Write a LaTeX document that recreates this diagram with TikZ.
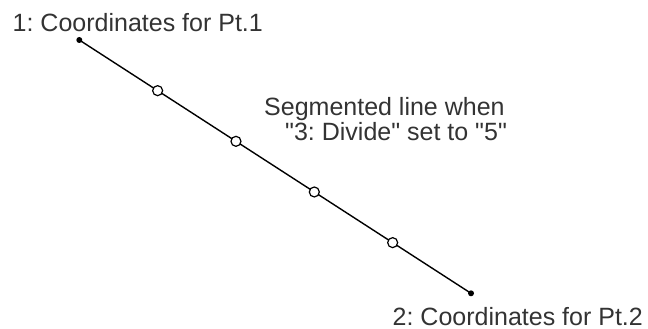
\documentclass[tikz,border=0pt]{standalone}
\usepackage{fontspec}
\setmainfont{Liberation Sans}
\usetikzlibrary{calc}
\frenchspacing
\begin{document}
\begin{tikzpicture}[x=1pt,y=-1pt,
  lbl/.style={font=\fontsize{25}{25}\selectfont, text=black!80, inner sep=0pt, anchor=base west},
  enddot/.style={circle, fill=black, inner sep=0pt, minimum size=6pt},
  divpt/.style={circle, draw=black, fill=white, line width=1.2pt, inner sep=0pt, minimum size=10pt},
  seg/.style={line width=1.4pt, black}]
\useasboundingbox (0,0) rectangle (648,329);
\coordinate (p1) at (79.3,40);
\coordinate (p2) at (471,293.3);
\draw[seg] (p1) -- (p2);
\node[enddot] (e1) at (p1) {};
\node[enddot] (e2) at (p2) {};
\foreach \i in {1,2,3,4} {
  \node[divpt] (d\i) at ($(p1)!\i/5!(p2)$) {};
}
\node[lbl] (t1) at (12.5,32) {1: Coordinates for Pt.1};
\node[lbl] (t2) at (392.5,325) {2: Coordinates for Pt.2};
\node[lbl] (t3) at (264,115) {Segmented line when};
\node[lbl] (t4) at (285,140) {\textquotedbl 3: Divide\textquotedbl{} set to \textquotedbl 5\textquotedbl};
\end{tikzpicture}
\end{document}
